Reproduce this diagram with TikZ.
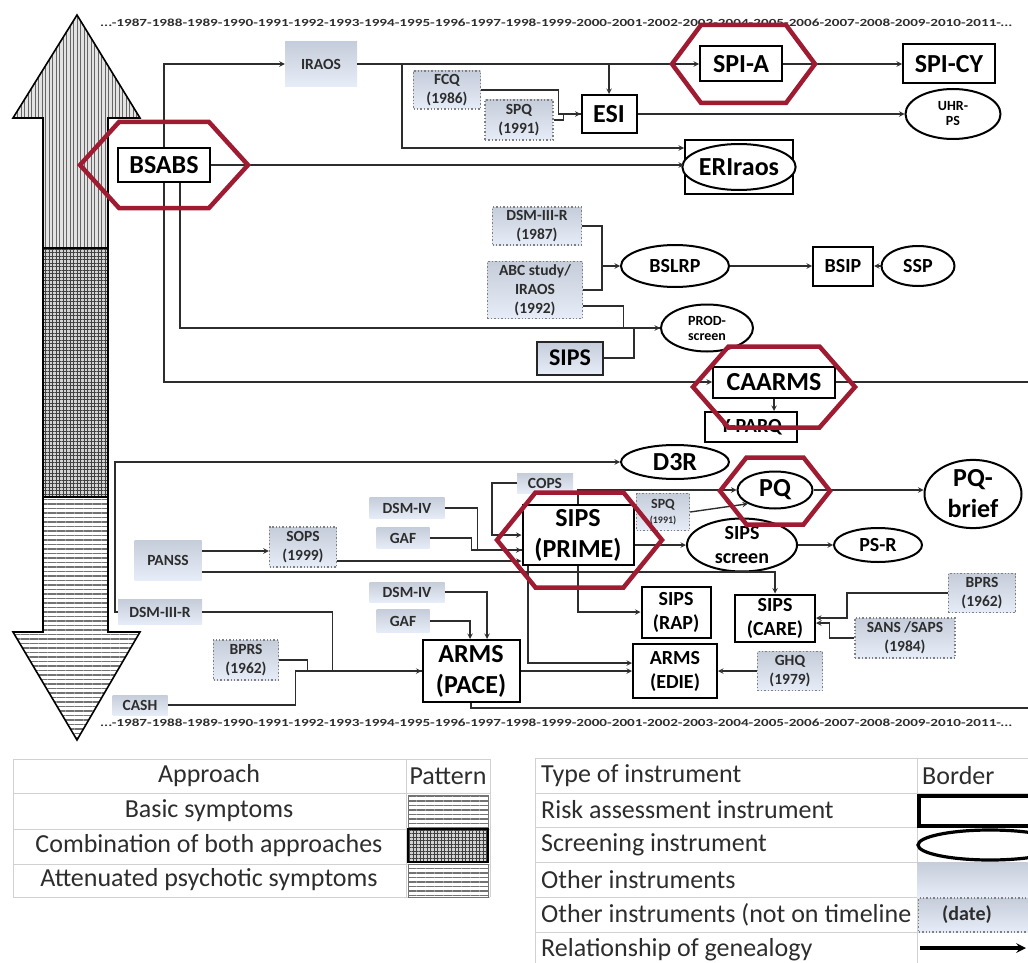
\documentclass[tikz,border=0pt]{standalone}
\usepackage{graphicx}
\usepackage{fontspec}
\setmainfont{Carlito}
\usetikzlibrary{positioning, arrows, shapes.geometric, patterns.meta}
\definecolor{hexred}{RGB}{158,27,50}
\definecolor{othtop}{RGB}{198,205,218}
\definecolor{othbot}{RGB}{230,237,248}
\definecolor{ink}{RGB}{45,45,45}
\tikzset{
    >=stealth,
    link/.style={->, line width=1.4pt, draw=ink},
    wire/.style={line width=1.4pt, draw=ink},
    risk/.style={draw=black, line width=2pt, fill=white, inner sep=0pt, align=center},
    screen/.style={ellipse, draw=black, line width=2pt, fill=white, inner sep=0pt, align=center},
    other/.style={top color=othtop, bottom color=othbot, inner sep=0pt, align=center, text=ink},
    otherdate/.style={other, draw=gray, dotted, line width=1.4pt},
    hexline/.style={draw=hexred, line width=4.5pt},
    fbig/.style={font=\fontsize{26}{31}\selectfont\bfseries},
    fmid/.style={font=\fontsize{20}{24}\selectfont\bfseries},
    fsml/.style={font=\fontsize{15.5}{19}\selectfont\bfseries},
    ftny/.style={font=\fontsize{14}{15}\selectfont\bfseries},
    ftab/.style={font=\fontsize{26}{28}\selectfont, text=ink, inner sep=0pt},
    tabline/.style={draw=black!18, line width=1pt},
    patvert/.style={pattern={Lines[angle=90,distance=3.5pt,line width=1pt]}, pattern color=black!60},
    patgrid/.style={pattern={Hatch[distance=3.5pt,line width=0.8pt]}, pattern color=black!75},
    pathoriz/.style={pattern={Lines[angle=0,distance=4.5pt,line width=1.2pt]}, pattern color=black!55}
}
\newcommand{\hexmark}[5]{\draw[hexline] (#1-#3,#2) -- (#1-#4,#2-#5) -- (#1+#4,#2-#5) -- (#1+#3,#2) -- (#1+#4,#2+#5) -- (#1-#4,#2+#5) -- cycle;}
\newcommand{\yearline}{\bfseries ...-1987-1988-1989-1990-1991-1992-1993-1994-1995-1996-1997-1998-1999-2000-2001-2002-2003-2004-2005-2006-2007-2008-2009-2010-2011-...}

\begin{document}
\begin{tikzpicture}[x=1pt, y=-1pt]
    \useasboundingbox (0,0) rectangle (1028,963);

    % approach arrow
    \begin{scope}
        \clip (77,15) -- (140,118) -- (108,118) -- (108,632) -- (140,632) -- (77,740) -- (13,632) -- (43,632) -- (43,118) -- (13,118) -- cycle;
        \fill[gray!22] (0,0) rectangle (150,750);
        \fill[patvert] (0,0) rectangle (150,248);
        \fill[gray!35] (0,248) rectangle (150,497);
        \fill[patgrid] (0,248) rectangle (150,497);
        \fill[white] (0,497) rectangle (150,750);
        \fill[pathoriz] (0,497) rectangle (150,750);
    \end{scope}
    \draw[line width=1.6pt] (77,15) -- (140,118) -- (108,118) -- (108,632) -- (140,632) -- (77,740) -- (13,632) -- (43,632) -- (43,118) -- (13,118) -- cycle;
    \draw[line width=1.2pt] (43,248) -- (108,248) (43,497) -- (108,497);

    % timelines
    \node[anchor=west, inner sep=0pt, text=ink] (yrtop) at (100,23) {\resizebox{912pt}{7.5pt}{\yearline}};
    \node[anchor=west, inner sep=0pt, text=ink] (yrbot) at (100,723) {\resizebox{912pt}{7.5pt}{\yearline}};

    % instruments
    \node[other, fsml, minimum width=72, minimum height=45] (iraos) at (321,64) {IRAOS};
    \node[risk, fbig, minimum width=82, minimum height=35] (spia) at (741,64) {SPI-A};
    \node[risk, fbig, minimum width=92, minimum height=39] (spicy) at (949,64) {SPI-CY};
    \node[risk, fbig, minimum width=55, minimum height=38] (esi) at (609,114) {ESI};
    \node[screen, ftny, minimum width=95, minimum height=50] (uhr) at (953,114) {UHR-\\PS};
    \node[risk, minimum width=108, minimum height=54] (eribox) at (739,167) {};
    \node[screen, fbig, minimum width=102, minimum height=46] (eri) at (eribox) {ERIraos};
    \node[otherdate, fsml, minimum width=67, minimum height=38] (fcq) at (447,90) {FCQ\\(1986)};
    \node[otherdate, fsml, minimum width=68, minimum height=40] (spqa) at (519,120) {SPQ\\(1991)};
    \node[risk, fbig, minimum width=92, minimum height=34] (bsabs) at (164,165) {BSABS};
    \node[otherdate, fsml, minimum width=89, minimum height=38] (dsmiiir) at (537,226) {DSM-III-R\\(1987)};
    \node[otherdate, fsml, minimum width=95, minimum height=57] (abc) at (535,290) {ABC study/\\IRAOS\\(1992)};
    \node[screen, fmid, minimum width=108, minimum height=42] (bslrp) at (675,266) {BSLRP};
    \node[risk, fmid, minimum width=60, minimum height=39] (bsip) at (843,266) {BSIP};
    \node[screen, fmid, minimum width=73, minimum height=40] (ssp) at (918,266) {SSP};
    \node[screen, ftny, minimum width=92, minimum height=47] (prod) at (707,328) {PROD-\\screen};
    \node[other, draw=black!85, line width=2pt, text=black, font=\fontsize{24}{28}\selectfont\bfseries, minimum width=66, minimum height=33] (sipsbox) at (570,358) {SIPS};
    \node[risk, fbig, minimum width=122, minimum height=31] (caarms) at (774,382) {CAARMS};
    \node[risk, fmid, minimum width=92, minimum height=30] (yparq) at (751,427) {Y-PARQ};
    \node[screen, fbig, minimum width=108, minimum height=34] (dthreer) at (675,462) {D3R};
    \node[screen, fbig, minimum width=75, minimum height=37] (pq) at (775,490) {PQ};
    \node[screen, fbig, minimum width=97, minimum height=66] (pqbrief) at (973,494) {PQ-\\brief};
    \node[other, fsml, minimum width=56, minimum height=20] (cops) at (545,483) {COPS};
    \node[otherdate, ftny, minimum width=53, minimum height=37] (spqb) at (663,512) {SPQ\\{\fontsize{10}{11}\selectfont(1991)}};
    \node[risk, fbig, minimum width=111, minimum height=60] (prime) at (578,535) {SIPS\\(PRIME)};
    \node[screen, fmid, minimum width=110, minimum height=53] (sipsscreen) at (742,545) {SIPS\\screen};
    \node[screen, fmid, minimum width=88, minimum height=34] (psr) at (878,545) {PS-R};
    \node[other, fsml, minimum width=75, minimum height=21] (dsmiva) at (407,508) {DSM-IV};
    \node[other, fsml, minimum width=53, minimum height=21] (gafa) at (403,538) {GAF};
    \node[other, fsml, minimum width=67, minimum height=40] (panss) at (168,560) {PANSS};
    \node[otherdate, fsml, minimum width=67, minimum height=40] (sops) at (303,547) {SOPS\\(1999)};
    \node[other, fsml, minimum width=75, minimum height=20] (dsmivb) at (407,592) {DSM-IV};
    \node[other, fsml, minimum width=53, minimum height=23] (gafb) at (403,621) {GAF};
    \node[risk, fbig, minimum width=97, minimum height=62] (pace) at (471,671) {ARMS\\(PACE)};
    \node[other, fsml, minimum width=84, minimum height=25] (dsmiiirb) at (160,612) {DSM-III-R};
    \node[otherdate, fsml, minimum width=65, minimum height=40] (bprsa) at (246,660) {BPRS\\(1962)};
    \node[other, fsml, minimum width=55, minimum height=20] (cash) at (140,705) {CASH};
    \node[risk, fmid, minimum width=69, minimum height=51] (rap) at (676,612) {SIPS\\(RAP)};
    \node[risk, fmid, minimum width=80, minimum height=47] (care) at (775,618) {SIPS\\(CARE)};
    \node[otherdate, fsml, minimum width=67, minimum height=39] (bprsb) at (982,593) {BPRS\\(1962)};
    \node[otherdate, fsml, minimum width=100, minimum height=40] (sans) at (905,638) {SANS /SAPS\\(1984)};
    \node[risk, fmid, minimum width=84, minimum height=54] (edie) at (675,671) {ARMS\\(EDIE)};
    \node[otherdate, fsml, minimum width=65, minimum height=39] (ghq) at (790,671) {GHQ\\(1979)};

    % genealogy, upper part
    \coordinate (iraosfork) at (402,64);
    \coordinate (bslfork) at (602,266);
    \coordinate (caarmsout) at (1030,382);
    \draw[link] (bsabs.north) |- (iraos.west);
    \draw[link] (bsabs.south) |- (caarms.west);
    \draw[link] ([xshift=16pt]bsabs.south) |- (prod.west);
    \draw[link] (bsabs.east) -- (bsabs.east -| eribox.west);
    \draw[link] (iraos.east) -- (spia.west);
    \draw[link] (esi.north |- iraos.east) -- (esi.north);
    \draw[link] (iraosfork) |- ([yshift=19pt]eribox.west);
    \draw[link] (fcq.east) -- ++(77,0) |- (esi.west);
    \draw[wire] (spqa.east) -- ++(10,0) |- (esi.west);
    \draw[link] (esi.east) -- (uhr.west);
    \draw[link] (spia.east) -- (spicy.west);
    \draw[wire] (dsmiiir.east) -| (bslfork) |- (abc.east);
    \draw[link] (bslfork) -- (bslrp.west);
    \draw[link] (bslrp.east) -- (bsip.west);
    \draw[link] (ssp.west) -- (bsip.east);
    \draw[wire] ([yshift=-16pt]abc.east) -- ++(40,0) |- (prod.west);
    \draw[wire] (sipsbox.east) -- ++(30,0) |- (prod.west);
    \draw[wire] (caarms.east) -- (caarmsout);
    \draw[link] (caarms.south) -- (caarms.south |- yparq.north);

    % genealogy, lower part
    \coordinate (paceout) at (1030,708);
    \draw[link] (dsmiiirb.west) -- ++(-3,0) |- (dthreer.west);
    \draw[link] (dsmiiirb.east) -- ++(130,0) |- (pace.west);
    \draw[wire] (bprsa.east) -- ++(28,0) |- (pace.west);
    \draw[wire] (cash.east) -- ++(128,0) |- (pace.west);
    \draw[link] (dsmivb.east) -| ([xshift=16pt]pace.north);
    \draw[link] (gafb.east) -| ([xshift=-1pt]pace.north);
    \draw[link] (pace.east) -- (edie.west);
    \draw[wire] (pace.south) -- (pace.south |- paceout) -- (paceout);
    \draw[link] (ghq.west) -- (edie.east);
    \draw[link] ([xshift=-50pt]prime.south) |- ([yshift=8pt]edie.west);
    \draw[link] (prime.south) |- (rap.west);
    \draw[link] (prime.east |- sipsscreen.west) -- (sipsscreen.west);
    \draw[link] (sipsscreen.east) -- (psr.west);
    \draw[link] (prime.north) |- (pq.west);
    \draw[link] (cops.west) -- ++(-25,0) |- (prime.west);
    \draw[link] (dsmiva.east) -- ++(33,0) |- ([yshift=-15pt]prime.west);
    \draw[wire] (gafa.east) -- ++(42,0) |- ([yshift=-15pt]prime.west);
    \draw[link] ([yshift=9pt]panss.east) -- ([yshift=9pt]panss.east -| sops.west);
    \draw[link] ([yshift=-14pt]sops.east) -- ([yshift=-14pt]sops.east -| prime.west);
    \draw[link] ([yshift=-12pt]panss.east) -| (care.north);
    \draw[link] (spqb.east) -- (pq.south west);
    \draw[link] (pq.east) -- (pq.east -| pqbrief.west);
    \draw[link] (bprsb.west) -- ++(-101,0) |- (care.east);
    \draw[link] (sans.west) -- ++(-25,0) |- ([yshift=-5pt]care.east);

    % most used instruments
    \hexmark{164}{165}{84}{45}{43}
    \hexmark{743.5}{64}{71.5}{42.5}{39}
    \hexmark{774}{387}{81}{45.5}{40.5}
    \hexmark{775}{491}{55}{28.5}{33.5}
    \hexmark{579.5}{540}{82.5}{44}{47.5}

    % legend: approach
    \foreach \yy in {759,793,829,864,897} \draw[tabline] (13,\yy) -- (490,\yy);
    \foreach \xx in {13,406,490} \draw[tabline] (\xx,759) -- (\xx,897);
    \node[ftab] (apphead) at (209,776) {Approach};
    \node[ftab] (pathead) at (448,776) {Pattern};
    \node[ftab] (appbasic) at (209,811) {Basic symptoms};
    \node[ftab] (appboth) at (209,846) {Combination of both approaches};
    \node[ftab] (appatt) at (209,880) {Attenuated psychotic symptoms};
    \draw[black!55, line width=0.8pt, pathoriz] (408,795) rectangle (488,827);
    \draw[black, line width=1.8pt, fill=gray!35] (408,829) rectangle (488,862);
    \draw[black, line width=1.8pt, patgrid] (408,829) rectangle (488,862);
    \draw[black!55, line width=0.8pt, pathoriz] (408,864) rectangle (488,897);

    % legend: type of instrument
    \foreach \yy in {758,793,827,862,897,932} \draw[tabline] (535,\yy) -- (1028,\yy);
    \foreach \xx in {535,917} \draw[tabline] (\xx,758) -- (\xx,963);
    \node[ftab, anchor=west] (typehead) at (541,776) {Type of instrument};
    \node[ftab, anchor=west] (borderhead) at (922,776) {Border};
    \node[ftab, anchor=west] (typerisk) at (541,810) {Risk assessment instrument};
    \node[ftab, anchor=west] (typescreen) at (541,845) {Screening instrument};
    \node[ftab, anchor=west] (typeother) at (541,880) {Other instruments};
    \node[ftab, anchor=west] (typedate) at (541,915) {Other instruments (not on timeline};
    \node[ftab, anchor=west] (typegen) at (541,950) {Relationship of genealogy};
    \draw[line width=3.2pt] (919,796) rectangle (1045,826);
    \draw[line width=3.2pt] (990,845) ellipse (72 and 15);
    \shade[top color=othtop, bottom color=othbot] (917,862) rectangle (1030,897);
    \node[otherdate, minimum width=115, minimum height=34, anchor=west] (datebox) at (918,915) {};
    \node[fmid, text=ink] (datetext) at (967,915) {(date)};
    \coordinate (genfrom) at (920,948);
    \coordinate (gento) at (1026,948);
    \draw[->, line width=3.2pt] (genfrom) -- (gento);
\end{tikzpicture}
\end{document}
